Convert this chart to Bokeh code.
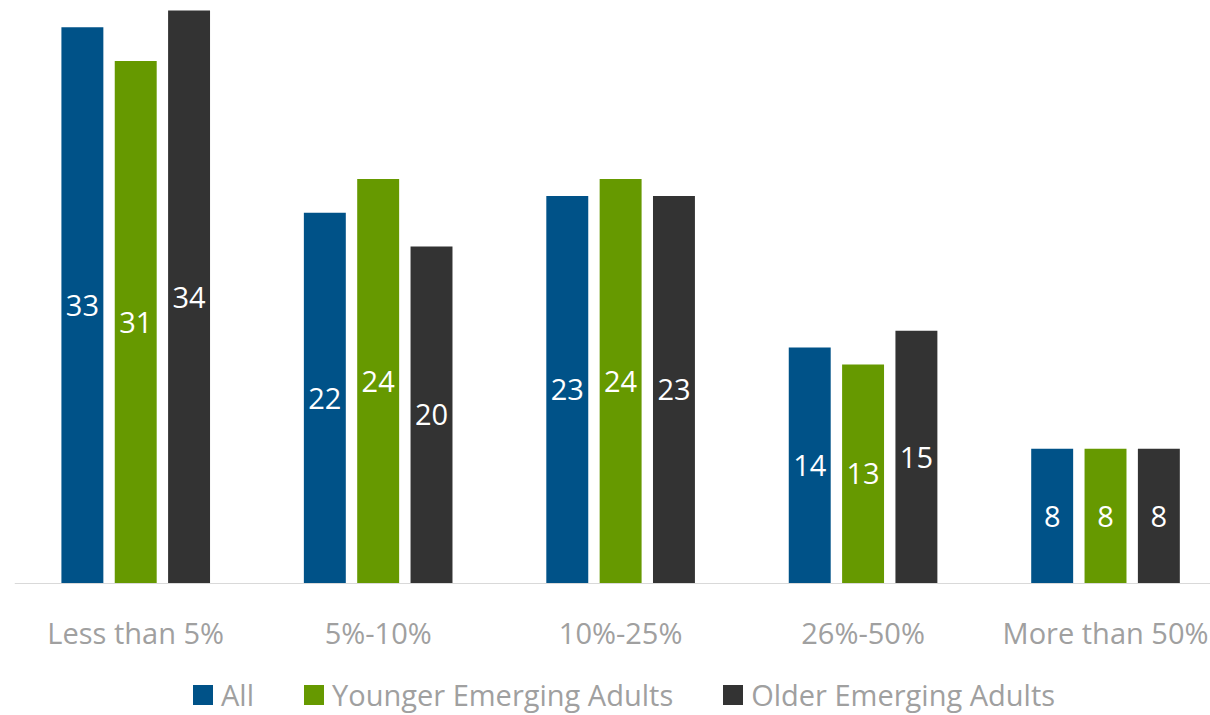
from bokeh.plotting import figure
from bokeh.models import Range1d, Legend, LegendItem, ColumnDataSource, Span
from bokeh.core.properties import value
from bokeh.embed import file_html
from bokeh.resources import INLINE

categories = ["Less than 5%", "5%-10%", "10%-25%", "26%-50%", "More than 50%"]
all_vals = [33, 22, 23, 14, 8]
younger_vals = [31, 24, 24, 13, 8]
older_vals = [34, 20, 23, 15, 8]

series = [
    ("All", all_vals, "#005288", -0.22),
    ("Younger Emerging Adults", younger_vals, "#669900", 0.0),
    ("Older Emerging Adults", older_vals, "#333333", 0.22),
]

FONT = "Open Sans"
FS = "29px"
PX_PER_UNIT = 575 / 34.12
FRAME_H = 706
Y_LOW = -(FRAME_H - 575) / PX_PER_UNIT

p = figure(frame_width=1196, frame_height=FRAME_H, output_backend="svg", toolbar_location=None,
           x_range=Range1d(-0.5, 4.433), y_range=Range1d(Y_LOW, 34.12),
           min_border_left=14, min_border_right=0, min_border_top=8, min_border_bottom=0)
p.outline_line_color = None
p.xgrid.visible = False
p.ygrid.visible = False
p.axis.visible = False

# baseline (category axis line)
p.add_layout(Span(location=0, dimension="width", line_color="#d9d9d9", line_width=1))

items = []
for name, vals, color, off in series:
    xs = [i + off for i in range(len(categories))]
    src = ColumnDataSource(dict(x=xs, top=vals, mid=[v / 2 for v in vals],
                                lab=[str(v) for v in vals]))
    r = p.vbar(x="x", top="top", width=0.173, source=src, fill_color=color, line_color=None)
    p.text(x="x", y="mid", text="lab", source=src, text_align="center",
           text_baseline="middle", text_color="white",
           text_font=value(FONT), text_font_size=FS)
    items.append(LegendItem(label=name, renderers=[r]))

# category labels under the baseline
cat_src = ColumnDataSource(dict(x=list(range(len(categories))),
                                y=[-49 / PX_PER_UNIT] * len(categories),
                                t=categories))
p.text(x="x", y="y", text="t", source=cat_src, text_align="center",
       text_baseline="middle", text_color="#a0a0a0",
       text_font=value(FONT), text_font_size=FS)

legend = Legend(items=items, orientation="horizontal", location=(176, 0),
                label_text_font=FONT, label_text_font_size=FS,
                label_text_color="#a0a0a0", glyph_width=25, glyph_height=25,
                label_standoff=6, spacing=47, padding=0, margin=0,
                border_line_color=None, background_fill_alpha=0)
p.add_layout(legend, "center")

open("out.html", "w").write(file_html(p, INLINE))
